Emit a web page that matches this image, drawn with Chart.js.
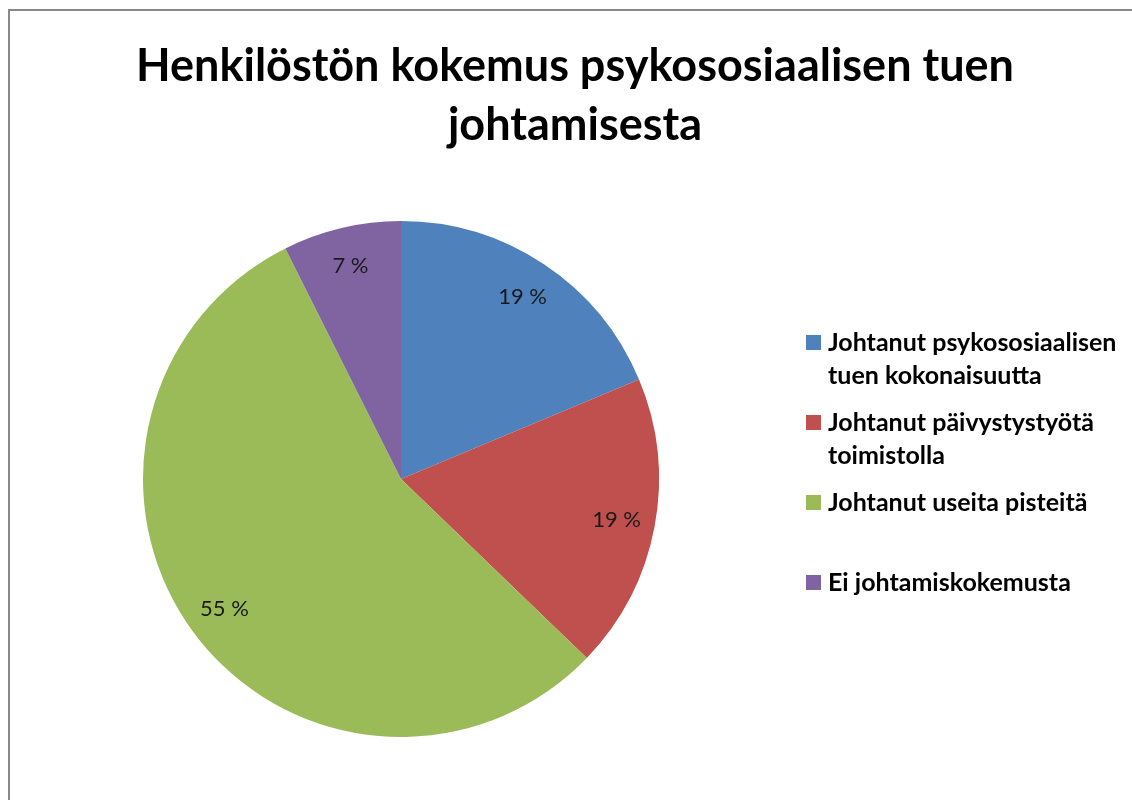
<!DOCTYPE html>
<html>
<head>
<meta charset="utf-8">
<script src="https://cdn.jsdelivr.net/npm/chart.js@4.4.1/dist/chart.umd.min.js"></script>
<style>
  html, body { margin: 0; padding: 0; background: #fff; }
  #wrap { width: 1132px; height: 800px; position: relative; }
</style>
</head>
<body>
<div id="wrap"><canvas id="c" width="1132" height="800"></canvas></div>
<script>
const titleLines = ['Henkilöstön kokemus psykososiaalisen tuen', 'johtamisesta'];
const categories = [
  'Johtanut psykososiaalisen tuen kokonaisuutta',
  'Johtanut päivystystyötä toimistolla',
  'Johtanut useita pisteitä',
  'Ei johtamiskokemusta'
];
const shares = [18.7, 18.5, 55.4, 7.4];
const colors = ['#4F81BD', '#C0504D', '#9BBB59', '#8064A2'];

const FONT = 'Lato, "Open Sans", "DejaVu Sans", sans-serif';

const framePlugin = {
  id: 'frame',
  beforeDraw(chart) {
    const ctx = chart.ctx;
    ctx.save();
    ctx.fillStyle = '#fff';
    ctx.fillRect(0, 0, chart.width, chart.height);
    ctx.strokeStyle = '#888888';
    ctx.lineWidth = 2;
    ctx.beginPath();
    ctx.moveTo(9, chart.height + 5);
    ctx.lineTo(9, 10);
    ctx.lineTo(chart.width + 5, 10);
    ctx.stroke();
    ctx.restore();
  },
  afterDraw(chart) {
    const ctx = chart.ctx;
    ctx.save();
    ctx.fillStyle = '#000';
    ctx.textAlign = 'center';
    ctx.textBaseline = 'alphabetic';
    ctx.font = 'bold 45px ' + FONT;
    ctx.fillText(titleLines[0], 575, 81);
    ctx.fillText(titleLines[1], 575, 140);
    ctx.restore();
  }
};

const labelPlugin = {
  id: 'sliceLabels',
  afterDatasetsDraw(chart) {
    const ctx = chart.ctx;
    const meta = chart.getDatasetMeta(0);
    const data = chart.data.datasets[0].data;
    ctx.save();
    ctx.font = '22px ' + FONT;
    ctx.fillStyle = '#1a1a1a';
    ctx.textAlign = 'center';
    ctx.textBaseline = 'middle';
    meta.data.forEach((arc, i) => {
      const p = arc.getProps(['x', 'y', 'startAngle', 'endAngle', 'outerRadius'], true);
      const mid = (p.startAngle + p.endAngle) / 2;
      const r = p.outerRadius * 0.85;
      ctx.fillText(Math.round(data[i]) + ' %', p.x + Math.cos(mid) * r, p.y + Math.sin(mid) * r);
    });
    ctx.restore();
  }
};

const legendPlugin = {
  id: 'sideLegend',
  afterDraw(chart) {
    const ctx = chart.ctx;
    const x0 = 806, textX = 828, maxW = 295;
    let y = 343;
    ctx.save();
    ctx.font = 'bold 25px ' + FONT;
    ctx.textBaseline = 'middle';
    ctx.textAlign = 'left';
    chart.data.labels.forEach((lab, i) => {
      const words = lab.split(' ');
      const lines = [];
      let cur = '';
      words.forEach(w => {
        const t = cur ? cur + ' ' + w : w;
        if (ctx.measureText(t).width > maxW && cur) { lines.push(cur); cur = w; }
        else cur = t;
      });
      if (cur) lines.push(cur);
      ctx.fillStyle = chart.data.datasets[0].backgroundColor[i];
      ctx.fillRect(x0, y - 8, 15, 15);
      ctx.fillStyle = '#000';
      lines.forEach((ln, k) => ctx.fillText(ln, textX, y + k * 33));
      y += 80;
    });
    ctx.restore();
  }
};

new Chart(document.getElementById('c'), {
  type: 'pie',
  data: {
    labels: categories,
    datasets: [{
      data: shares,
      backgroundColor: colors,
      borderWidth: 0
    }]
  },
  options: {
    responsive: false,
    animation: false,
    layout: { padding: { left: 143, right: 473, top: 221, bottom: 63 } },
    plugins: {
      legend: { display: false },
      tooltip: { enabled: false },
      title: { display: false }
    }
  },
  plugins: [framePlugin, labelPlugin, legendPlugin]
});
</script>
</body>
</html>
